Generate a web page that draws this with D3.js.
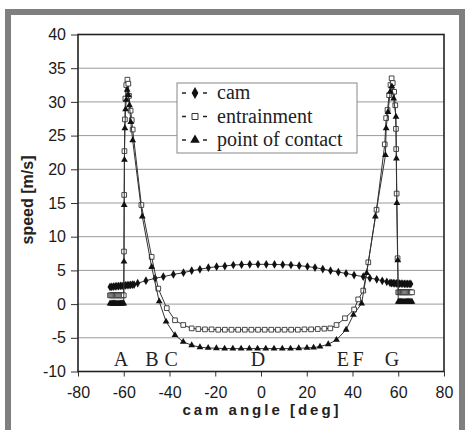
<!DOCTYPE html>
<meta charset="utf-8">
<head>
  <script src="https://d3js.org/d3.v7.min.js"></script>
  <style>
    body { margin: 0; background: #fff; }
    text { font-family: "Liberation Sans", Arial, sans-serif; }
    .serif { font-family: "Liberation Serif", "Times New Roman", serif; }
  </style>
</head>
<body>
  <div id="chart"></div>
  <script>
    // cam speed
    var camAngle = [-66, -65.25, -64.5, -63.75, -63, -62.25, -61.5, -60.75, -60, -59.25, -58.5, -57.75, -57, -56.25, -55.5,
      -53.9, -50.3, -46.3, -42.7, -38.3, -33.9, -30.3, -26.7, -23, -19.4, -15.8, -12.1, -8.5, -4.9, -1.3,
      2.3, 5.9, 9.5, 13.1, 16.7, 20.3, 23.6, 27, 30.4, 33.8, 37.2, 40.7, 44.7, 47.6, 50.6, 53, 55,
      56.4, 57.1, 57.8, 58.5, 59.2, 59.9, 60.6, 61.3, 62, 62.7, 63.4, 64.1, 64.8, 65.5];
    var camSpeed = [2.55, 2.57, 2.6, 2.62, 2.65, 2.67, 2.7, 2.72, 2.75, 2.77, 2.8, 2.83, 2.85, 2.88, 2.9,
      3.1, 3.47, 3.83, 4.07, 4.4, 4.66, 4.96, 5.16, 5.4, 5.55, 5.65, 5.8, 5.85, 5.9, 5.9,
      5.9, 5.88, 5.85, 5.8, 5.7, 5.58, 5.42, 5.2, 4.96, 4.75, 4.55, 4.3, 4.07, 3.85, 3.68, 3.45, 3.3,
      3.15, 3.12, 3.1, 3.08, 3.06, 3.05, 3.04, 3.03, 3.02, 3.01, 3.0, 3.0, 3.0, 3.0];

    // entrainment speed
    var entAngle = [-66, -65.5, -65, -64.5, -64, -63.5, -63, -62.5, -62, -61.5, -61, -60.5, -60,
      -59.9, -59.8, -59.7, -59.5, -59.3, -58.9, -58.4, -58, -57.7, -57, -56.5, -56.1, -52.3, -47.8, -44.9,
      -41.2, -37.6, -34, -30.3, -27.4, -24.5, -21.6, -18.7, -15.8, -12.9, -10, -7.1, -4.2, -1.3,
      1.6, 4.5, 7.4, 10.3, 13.2, 16.1, 19, 21.9, 24.8, 27.7, 30.3, 33, 36.7, 40.7, 42.5, 44.7, 46.9,
      50.5, 54.1, 54.7, 55.3, 56, 56.6, 57.1, 57.6, 58.2, 58.7, 59, 59.1, 59.3, 59.7, 60,
      60.5, 61, 61.5, 62, 62.5, 63, 63.5, 64, 64.5, 65, 65.5, 66];
    var entSpeed = [1.3, 1.3, 1.3, 1.3, 1.3, 1.3, 1.3, 1.3, 1.3, 1.3, 1.3, 1.3, 1.3,
      7.8, 16.2, 22.7, 27.4, 30.5, 32.5, 33.3, 32.7, 30.9, 28.7, 27.3, 25.9, 14.7, 7.0, 2.3,
      -0.6, -2.4, -3.1, -3.6, -3.7, -3.75, -3.75, -3.8, -3.8, -3.8, -3.8, -3.8, -3.8, -3.8,
      -3.8, -3.8, -3.8, -3.8, -3.8, -3.8, -3.75, -3.75, -3.7, -3.65, -3.6, -3.1, -2.1, -0.8, 0.7, 2.0, 6.2,
      14, 23.7, 27.6, 28.8, 31, 32.5, 33.5, 32.8, 31.5, 29.5, 26, 23, 16.4, 6.8, 1.75,
      1.75, 1.75, 1.75, 1.75, 1.75, 1.75, 1.75, 1.75, 1.75, 1.75, 1.75, 1.75];

    // point of contact speed
    var pocAngle = [-66, -65.5, -65, -64.5, -64, -63.5, -63, -62.5, -62, -61.5, -61, -60.5, -60,
      -59.9, -59.8, -59.7, -59.5, -59.2, -58.9, -58.5, -58, -57.5, -56.9, -56.1, -51.9, -47.8, -44.5,
      -41.5, -37.6, -34, -30.3, -26.7, -23.1, -19.5, -15.9, -12.3, -8.7, -5.1, -1.5, 2.1, 5.7, 9.3,
      12.9, 16.5, 20.1, 23, 25.8, 29.4, 33, 37.2, 40.4, 44, 46.2, 50, 54.4, 54.7, 55.5, 56.5, 57.2,
      58, 59, 59.2, 59.4, 59.8, 60,
      60.5, 61, 61.5, 62, 62.5, 63, 63.5, 64, 64.5, 65, 65.5, 66];
    var pocSpeed = [0.1, 0.1, 0.1, 0.1, 0.1, 0.1, 0.1, 0.1, 0.1, 0.1, 0.1, 0.1, 0.1,
      6.3, 14.7, 21.4, 26.1, 28.9, 30.3, 31.8, 31.0, 29.5, 27.0, 24.3, 13.0, 5.5, 0.4,
      -2.6, -4.6, -5.6, -6.1, -6.4, -6.5, -6.55, -6.6, -6.6, -6.6, -6.6, -6.6, -6.6, -6.6, -6.6,
      -6.6, -6.55, -6.5, -6.45, -6.3, -5.96, -5.3, -3.8, -1.6, 0.1, 4.6, 13, 22.1, 26.1, 28.5, 31.5, 32.3,
      30.5, 27.8, 21.6, 15.0, 6.5, 0.36,
      0.36, 0.36, 0.36, 0.36, 0.36, 0.36, 0.36, 0.36, 0.36, 0.36, 0.36, 0.36];

    var seriesNames = ["cam", "entrainment", "point of contact"];
    var xTicks = [-80, -60, -40, -20, 0, 20, 40, 60, 80];
    var yTicks = [-10, -5, 0, 5, 10, 15, 20, 25, 30, 35, 40];
    var zoneLabels = ["A", "B", "C", "D", "E", "F", "G"];
    var zoneAngle = [-61.2, -47.7, -39.3, -1.3, 35.8, 42.4, 57.3];

    var W = 465, H = 430;
    var plot = { left: 78, right: 444, top: 34.5, bottom: 371.5 };

    var svg = d3.select("#chart")
      .append("svg")
      .attr("width", W)
      .attr("height", H);

    // grey scan frame
    svg.append("rect").attr("x", 5).attr("y", 9).attr("width", W - 5).attr("height", H - 9).attr("fill", "#7f7f7f");
    svg.append("rect").attr("x", 11).attr("y", 15).attr("width", W - 17).attr("height", H - 15).attr("fill", "#fff");

    var x = d3.scaleLinear().domain([-80, 80]).range([plot.left, plot.right]);
    var y = d3.scaleLinear().domain([-10, 40]).range([plot.bottom, plot.top]);

    // gridlines
    svg.append("g")
      .selectAll("line")
      .data(yTicks.filter(function (d) { return d > -10 && d < 40; }))
      .enter()
      .append("line")
      .attr("x1", plot.left).attr("x2", plot.right)
      .attr("y1", function (d) { return y(d); })
      .attr("y2", function (d) { return y(d); })
      .attr("stroke", "#9a9a9a")
      .attr("stroke-width", 1);

    // axes (plain hyphen minus, as in the scan)
    var fmt = function (d) { return String(d); };
    var yAxis = svg.append("g")
      .attr("transform", "translate(" + plot.left + ",0)")
      .call(d3.axisLeft(y).tickValues(yTicks).tickFormat(fmt).tickSize(7).tickPadding(5));
    var xAxis = svg.append("g")
      .attr("transform", "translate(0," + plot.bottom + ")")
      .call(d3.axisBottom(x).tickValues(xTicks).tickFormat(fmt).tickSize(5).tickPadding(10));
    [yAxis, xAxis].forEach(function (a) {
      a.select(".domain").remove();
      a.selectAll("line").attr("stroke", "#333");
      a.selectAll("text")
        .style("font-family", "'Liberation Sans', Arial, sans-serif")
        .style("font-size", "16px")
        .attr("fill", "#1a1a1a");
    });

    // plot frame
    svg.append("rect")
      .attr("x", plot.left).attr("y", plot.top)
      .attr("width", plot.right - plot.left).attr("height", plot.bottom - plot.top)
      .attr("fill", "none").attr("stroke", "#222").attr("stroke-width", 1.6);

    // axis titles
    svg.append("text")
      .attr("transform", "translate(33,200) rotate(-90)")
      .attr("text-anchor", "middle")
      .style("font-size", "16px").style("font-weight", "bold")
      .attr("fill", "#222")
      .text("speed [m/s]");
    svg.append("text")
      .attr("x", 262).attr("y", 415)
      .attr("text-anchor", "middle")
      .style("font-size", "15px").style("font-weight", "bold")
      .style("letter-spacing", "3px")
      .attr("fill", "#222")
      .text("cam angle [deg]");

    // zone letters
    svg.append("g")
      .selectAll("text")
      .data(zoneLabels)
      .enter()
      .append("text")
      .attr("class", "serif")
      .attr("x", function (d, i) { return x(zoneAngle[i]); })
      .attr("y", 366)
      .attr("text-anchor", "middle")
      .style("font-size", "20px")
      .attr("fill", "#222")
      .text(function (d) { return d; });

    var series = [
      { angle: camAngle, speed: camSpeed, symbol: d3.symbolDiamond, size: 22, fill: "#111" },
      { angle: entAngle, speed: entSpeed, symbol: d3.symbolSquare, size: 22, fill: "#fff" },
      { angle: pocAngle, speed: pocSpeed, symbol: d3.symbolTriangle, size: 20, fill: "#111" }
    ];

    var line = d3.line()
      .x(function (d) { return x(d[0]); })
      .y(function (d) { return y(d[1]); });

    series.forEach(function (s) {
      var pts = s.angle.map(function (a, i) { return [a, s.speed[i]]; });
      svg.append("path")
        .datum(pts)
        .attr("d", line)
        .attr("fill", "none")
        .attr("stroke", "#333")
        .attr("stroke-width", 1);
      svg.append("g")
        .selectAll("path")
        .data(pts)
        .enter()
        .append("path")
        .attr("transform", function (d) { return "translate(" + x(d[0]) + "," + y(d[1]) + ")"; })
        .attr("d", d3.symbol().type(s.symbol).size(s.size))
        .attr("fill", s.fill)
        .attr("stroke", s.fill === "#fff" ? "#333" : "none")
        .attr("stroke-width", 0.9);
    });

    // legend
    var lg = svg.append("g");
    lg.append("rect")
      .attr("x", 177).attr("y", 83).attr("width", 180).attr("height", 70)
      .attr("fill", "#fff").attr("stroke", "#888").attr("stroke-width", 1);
    seriesNames.forEach(function (name, i) {
      var cy = 93 + i * 23.5;
      lg.append("line").attr("x1", 182).attr("x2", 186).attr("y1", cy).attr("y2", cy).attr("stroke", "#222").attr("stroke-width", 1.5);
      lg.append("line").attr("x1", 203).attr("x2", 207).attr("y1", cy).attr("y2", cy).attr("stroke", "#222").attr("stroke-width", 1.5);
      lg.append("path")
        .attr("transform", "translate(195," + cy + ")")
        .attr("d", d3.symbol().type(series[i].symbol).size(i === 1 ? 36 : 40))
        .attr("fill", series[i].fill)
        .attr("stroke", series[i].fill === "#fff" ? "#333" : "none");
      lg.append("text")
        .attr("class", "serif")
        .attr("x", 217).attr("y", cy + 6)
        .style("font-size", "20px")
        .attr("fill", "#222")
        .text(name);
    });
  </script>
</body>
</html>
